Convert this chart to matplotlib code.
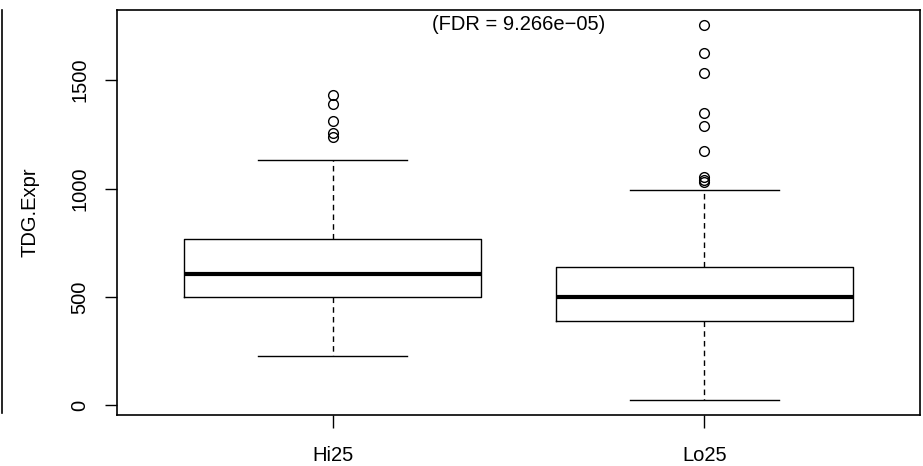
import matplotlib
matplotlib.use("Agg")
import matplotlib.pyplot as plt
from matplotlib.lines import Line2D

plt.rcParams['font.family'] = ['Liberation Sans', 'DejaVu Sans']

# values
groups = ['Hi25', 'Lo25']
q1 = [502, 390]
medians = [605, 502]
q3 = [767, 640]
whisk_lo = [229, 26]
whisk_hi = [1132, 994]
outliers = [
    [1432, 1389, 1313, 1258, 1237],
    [1754, 1624, 1532, 1347, 1289, 1174, 1055, 1040, 1028],
]
fdr_text = '(FDR = 9.266e\u221205)'

stats = []
for i in range(len(groups)):
    stats.append({'label': groups[i], 'q1': q1[i], 'med': medians[i], 'q3': q3[i],
                  'whislo': whisk_lo[i], 'whishi': whisk_hi[i], 'fliers': outliers[i]})

fig = plt.figure(figsize=(9.23, 4.66), dpi=100)
ax = fig.add_axes([117/923, 1 - 415/466, (920-117)/923, (415-10)/466])

ax.bxp(stats, positions=[1, 2], widths=0.8,
       boxprops=dict(color='black', linewidth=1.0),
       medianprops=dict(color='black', linewidth=3.0, solid_capstyle='butt'),
       whiskerprops=dict(color='black', linewidth=1.0, linestyle=(0, (4, 3))),
       capprops=dict(color='black', linewidth=1.0),
       capwidths=0.4,
       flierprops=dict(marker='o', markerfacecolor='none', markeredgecolor='black',
                       markersize=7, markeredgewidth=1.0))

ax.set_xlim(0.42, 2.58)
ax.set_ylim(-44, 1823)
ax.set_yticks([0, 500, 1000, 1500])
ax.set_yticklabels(['0', '500', '1000', '1500'], rotation=90, va='center')
ax.set_xticks([1, 2])
ax.set_xticklabels(groups)
ax.tick_params(axis='both', length=9, width=1, labelsize=14.5, color='black')
ax.tick_params(axis='y', pad=11)
ax.tick_params(axis='x', pad=13)
for s in ax.spines.values():
    s.set_linewidth(1.2)
ax.set_ylabel('TDG.Expr', fontsize=14.5, labelpad=22)

ax.text(0.5, 0.988, fdr_text, transform=ax.transAxes, ha='center', va='top', fontsize=14.5)

# edge of neighbouring panel on the left
fig.add_artist(Line2D([2/923, 2/923], [1 - 413/466, 1 - 10/466], color='black', linewidth=1.2))

fig.savefig('out.png', dpi=100)
